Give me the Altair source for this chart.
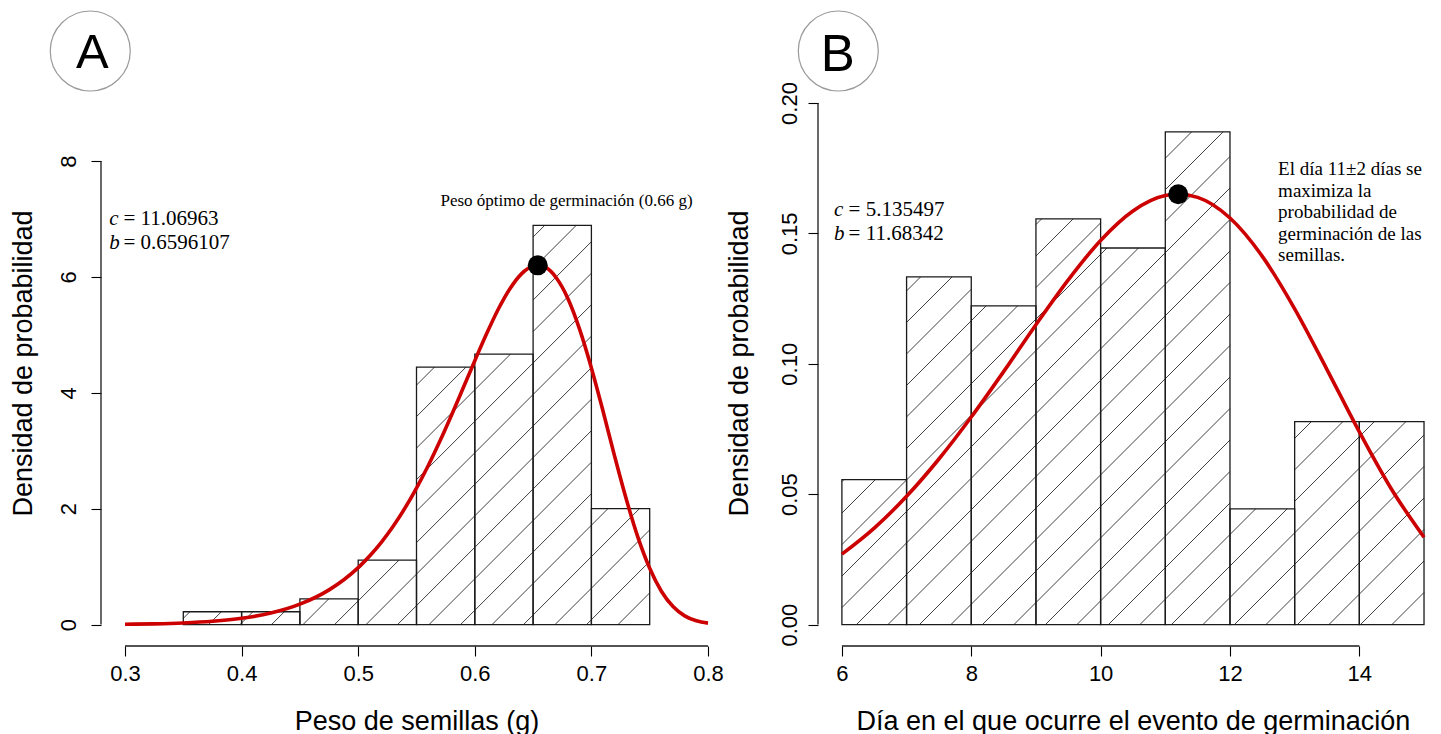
import math
import altair as alt
import pandas as pd

# ---------------- Panel A data ----------------
a_left = [0.35, 0.40, 0.45, 0.50, 0.55, 0.60, 0.65, 0.70]
a_right = [0.40, 0.45, 0.50, 0.55, 0.60, 0.65, 0.70, 0.75]
a_density = [0.222, 0.222, 0.444, 1.111, 4.444, 4.667, 6.889, 2.0]

a_curve_x = [0.30, 0.325, 0.35, 0.375, 0.40, 0.425, 0.45, 0.475, 0.50,
             0.51, 0.52, 0.53, 0.54, 0.55, 0.56, 0.57, 0.58, 0.59, 0.60,
             0.61, 0.62, 0.63, 0.64, 0.65, 0.654, 0.66, 0.67, 0.68, 0.69,
             0.70, 0.71, 0.72, 0.73, 0.74, 0.75, 0.76, 0.77, 0.78, 0.79, 0.80]
a_curve_y = [0.006, 0.013, 0.028, 0.057, 0.108, 0.199, 0.352, 0.599, 0.984,
             1.188, 1.424, 1.697, 2.007, 2.356, 2.741, 3.163, 3.614, 4.082, 4.553,
             5.013, 5.437, 5.791, 6.052, 6.188, 6.200, 6.171, 5.981, 5.620, 5.091,
             4.429, 3.681, 2.899, 2.158, 1.500, 0.971, 0.576, 0.311, 0.151, 0.065, 0.025]
a_peak = [0.654, 6.20]
a_xticks = [0.3, 0.4, 0.5, 0.6, 0.7, 0.8]
a_yticks = [0, 2, 4, 6, 8]

# ---------------- Panel B data ----------------
b_left = [6, 7, 8, 9, 10, 11, 12, 13, 14]
b_right = [7, 8, 9, 10, 11, 12, 13, 14, 15]
b_density = [0.0556, 0.1333, 0.1222, 0.1556, 0.1444, 0.1889, 0.0444, 0.0778, 0.0778]

b_curve_x = [6, 6.5, 7, 7.5, 8, 8.5, 9, 9.5, 10, 10.5, 11, 11.2, 11.5,
             12, 12.5, 13, 13.5, 14, 14.5, 15]
b_curve_y = [0.0270, 0.0370, 0.0492, 0.0635, 0.0796, 0.0970, 0.1150, 0.1322,
             0.1473, 0.1586, 0.1645, 0.1650, 0.1638, 0.1559, 0.1412, 0.1211,
             0.0978, 0.0739, 0.0518, 0.0335]
b_peak = [11.2, 0.165]
b_xticks = [6, 8, 10, 12, 14]
b_yticks = [0.0, 0.05, 0.10, 0.15, 0.20]

B_NOTE = ["El día 11±2 días se", "maximiza la", "probabilidad de",
          "germinación de las", "semillas."]

# ---------------- geometry ----------------
H = 637
A_PX, A_PY = 1166.0, 57.95
B_PX, B_PY = 64.68, 2608.0
A_XD = [0.3 - 24.0 / A_PX, 0.81]
A_YD = [-21.4 / A_PY, 615.6 / A_PY]
B_XD = [6 - 23.9 / B_PX, 15.05]
B_YD = [-21.4 / B_PY, 615.6 / B_PY]
A_W = (A_XD[1] - A_XD[0]) * A_PX
B_W = (B_XD[1] - B_XD[0]) * B_PX

SANS = "Liberation Sans"
SERIF = "Liberation Serif"
RED = "#cc0000"
HATCH_STEP = 31.5


def hatch_segments(lefts, rights, heights, x_org, px, py, phase, step):
    rows = []
    for x0, x1, h in zip(lefts, rights, heights):
        X0 = (x0 - x_org) * px
        X1 = (x1 - x_org) * px
        Hh = h * py
        kmin = math.floor((-X1 - phase) / step) - 1
        kmax = math.ceil((Hh - X0 - phase) / step) + 1
        for k in range(kmin, kmax + 1):
            d = phase + k * step
            s = max(X0, -d)
            e = min(X1, Hh - d)
            if e - s > 0.8:
                rows.append({"hx": x_org + s / px, "hy": (s + d) / py,
                             "hx2": x_org + e / px, "hy2": (e + d) / py})
    return pd.DataFrame(rows)


def make_panel(lefts, rights, dens, cx, cy, peak, xticks, yticks, xfmt, yfmt,
               xd, yd, px, py, width, phase, xtitle, xcenter, ylabpad, ytitlex,
               letter, circ, let_pos, font_letter, texts, italics, extra):
    xs = alt.Scale(domain=xd, nice=False, zero=False)
    ys = alt.Scale(domain=yd, nice=False, zero=False)
    x_axis = alt.Axis(values=xticks, format=xfmt, title=xtitle, domain=False, grid=False,
                      tickSize=10, tickColor="black", tickWidth=1.1,
                      labelFont=SANS, labelFontSize=22, labelColor="black",
                      labelBaseline="alphabetic", labelPadding=24, labelFlush=False,
                      labelAlign="center",
                      titleFont=SANS, titleFontSize=27, titleFontWeight="normal",
                      titleColor="black", titleAlign="center", titleBaseline="alphabetic",
                      titleX=(xcenter - xd[0]) * px, titleY=83.5)
    y_axis = alt.Axis(values=yticks, format=yfmt, title="Densidad de probabilidad",
                      domain=False, grid=False, tickSize=10, tickColor="black",
                      tickWidth=1.1, labelFont=SANS, labelFontSize=22, labelColor="black",
                      labelAngle=270, labelAlign="center", labelBaseline="alphabetic",
                      labelPadding=ylabpad, labelFlush=False,
                      titleFont=SANS, titleFontSize=27, titleFontWeight="normal",
                      titleColor="black", titleAngle=270, titleAlign="center",
                      titleBaseline="alphabetic", titleX=ytitlex, titleY=354)

    def X(f):
        return alt.X(f, scale=xs, axis=x_axis)

    def Y(f):
        return alt.Y(f, scale=ys, axis=y_axis)

    hdf = hatch_segments(lefts, rights, dens, xticks[0], px, py, phase, HATCH_STEP)
    hatch = alt.Chart(hdf).mark_rule(color="#2a2a2a", strokeWidth=0.9).encode(
        x=X("hx:Q"), y=Y("hy:Q"), x2="hx2:Q", y2="hy2:Q")

    bars_df = pd.DataFrame({"x0": lefts, "x1": rights, "d": dens, "z": [0] * len(dens)})
    bars = alt.Chart(bars_df).mark_rect(fill="transparent", stroke="#1a1a1a",
                                        strokeWidth=1.3).encode(
        x=X("x0:Q"), x2="x1:Q", y=Y("d:Q"), y2="z:Q")

    ax_df = pd.DataFrame({"ax": [xd[0], xticks[0]], "ax2": [xd[0], xticks[-1]],
                          "ay": [yticks[0], yd[0]], "ay2": [yticks[-1], yd[0]]})
    axes = alt.Chart(ax_df).mark_rule(color="#1a1a1a", strokeWidth=1.3).encode(
        x=X("ax:Q"), x2="ax2:Q", y=Y("ay:Q"), y2="ay2:Q")

    cdf = pd.DataFrame({"cx": cx, "cy": cy})
    curve = alt.Chart(cdf).mark_line(color=RED, strokeWidth=3.6,
                                     interpolate="monotone").encode(
        x=X("cx:Q"), y=Y("cy:Q"))

    pdf = pd.DataFrame({"px": [peak[0]], "py": [peak[1]]})
    dot = alt.Chart(pdf).mark_point(filled=True, color="black", size=400,
                                    shape="circle", opacity=1).encode(
        x=X("px:Q"), y=Y("py:Q"))

    layers = [hatch, bars, axes, curve, dot]

    layers.append(alt.Chart(pd.DataFrame(texts)).mark_text(
        align="left", baseline="alphabetic", font=SERIF, fontSize=21,
        color="black").encode(x=X("tx:Q"), y=Y("ty:Q"), text="t:N"))
    layers.append(alt.Chart(pd.DataFrame(italics)).mark_text(
        align="left", baseline="alphabetic", font=SERIF, fontSize=21,
        fontStyle="italic", color="black").encode(x=X("tx:Q"), y=Y("ty:Q"), text="t:N"))
    edf, efont, ealign = extra
    layers.append(alt.Chart(pd.DataFrame(edf)).mark_text(
        align=ealign, baseline="alphabetic", font=SERIF, fontSize=efont,
        color="black").encode(x=X("tx:Q"), y=Y("ty:Q"), text="t:N"))

    cdf2 = pd.DataFrame({"kx": [circ[0]], "ky": [circ[1]]})
    layers.append(alt.Chart(cdf2).mark_point(shape="circle", size=6400, filled=False,
                                             color="#9a9a9a", strokeWidth=1.2,
                                             opacity=1).encode(x=X("kx:Q"), y=Y("ky:Q")))
    ldf = pd.DataFrame({"lx": [let_pos[0]], "ly": [let_pos[1]], "t": [letter]})
    layers.append(alt.Chart(ldf).mark_text(align="center", baseline="alphabetic",
                                           font=SANS, fontSize=font_letter,
                                           color="black").encode(
        x=X("lx:Q"), y=Y("ly:Q"), text="t:N"))

    return alt.layer(*layers).properties(width=width, height=H)


panel_a = make_panel(
    a_left, a_right, a_density, a_curve_x, a_curve_y, a_peak, a_xticks, a_yticks,
    ".1f", "d", A_XD, A_YD, A_PX, A_PY, A_W, 11.0, "Peso de semillas (g)", 0.55, 16, -70,
    "A", [0.2702, 9.898], [0.2719, 9.610], 49,
    [{"tx": 0.29863, "ty": 6.896, "t": "= 11.06963"},
     {"tx": 0.29863, "ty": 6.490, "t": "= 0.6596107"}],
    [{"tx": 0.28654, "ty": 6.896, "t": "c"},
     {"tx": 0.28654, "ty": 6.490, "t": "b"}],
    ([{"tx": 0.67865, "ty": 7.223, "t": "Peso óptimo de germinación (0.66 g)"}], 17, "center"))

panel_b = make_panel(
    b_left, b_right, b_density, b_curve_x, b_curve_y, b_peak, b_xticks, b_yticks,
    "d", ".2f", B_XD, B_YD, B_PX, B_PY, B_W, 17.0,
    "Día en el que ocurre el evento de germinación", 10.5, 12, -70.5,
    "B", [5.9443, 0.21994], [5.9366, 0.21227], 51,
    [{"tx": 6.1036, "ty": 0.15667, "t": "= 5.135497"},
     {"tx": 6.1036, "ty": 0.14747, "t": "= 11.68342"}],
    [{"tx": 5.8794, "ty": 0.15667, "t": "c"},
     {"tx": 5.8794, "ty": 0.14747, "t": "b"}],
    ([{"tx": 12.744, "ty": 0.17239 - i * 0.008282, "t": s} for i, s in enumerate(B_NOTE)],
     19, "left"))

chart = alt.hconcat(panel_a, panel_b, spacing=1).properties(
    padding={"left": 1, "top": 0, "right": 0, "bottom": 0},
    background="white",
).configure_view(strokeWidth=0)

chart.save("out.html", embed_options={"renderer": "svg", "actions": False})
